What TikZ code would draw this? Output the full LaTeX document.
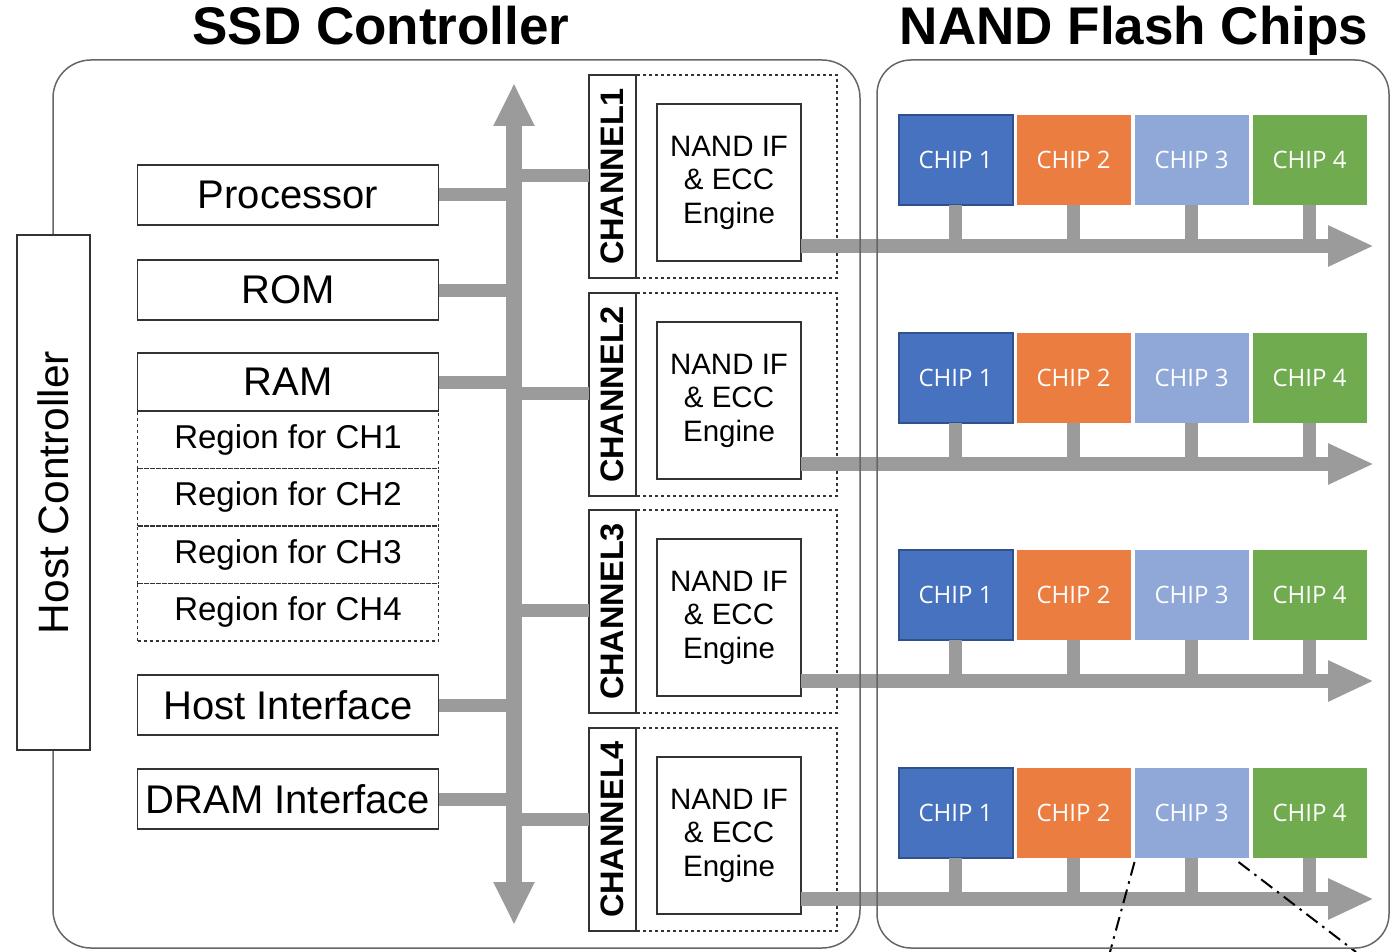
\documentclass[tikz,border=0pt]{standalone}
\usepackage{fontspec}
\setmainfont{Liberation Sans}
\newfontfamily\chipfont{Open Sans}
\usetikzlibrary{shapes,arrows.meta,positioning,calc}
\definecolor{busgray}{RGB}{155,155,155}
\definecolor{chipblue}{RGB}{70,114,192}
\definecolor{chipblueline}{RGB}{47,82,143}
\definecolor{chiporange}{RGB}{235,125,65}
\definecolor{chiplight}{RGB}{143,168,216}
\definecolor{chipgreen}{RGB}{112,171,80}

\begin{document}
\begin{tikzpicture}[x=1pt, y=-1pt,
    block/.style={rectangle, draw=black!80, line width=1.5pt, fill=white, inner sep=0pt, outer sep=0pt, align=center},
    region/.style={rectangle, draw=black!80, line width=1.5pt, dash pattern=on 3pt off 3pt, inner sep=0pt, outer sep=0pt, minimum width=301pt, minimum height=57.5pt, font=\fontsize{33}{38}\selectfont},
    group/.style={rectangle, draw=black!80, line width=1.5pt, dash pattern=on 3pt off 3pt, inner sep=0pt, outer sep=0pt},
    chip/.style={rectangle, inner sep=0pt, outer sep=0pt, minimum width=114pt, minimum height=90pt, text=white, font=\chipfont\fontsize{24}{28}\selectfont},
    frame/.style={rectangle, draw=black!60, line width=1.5pt, rounded corners=38pt, inner sep=0pt},
    title/.style={anchor=base, font=\fontsize{53}{60}\selectfont\bfseries},
    link/.style={draw=busgray, line width=13pt},
    stub/.style={draw=busgray, line width=12.5pt},
    bus/.style={draw=busgray, line width=16pt, {Triangle[length=43pt, width=38pt]}-{Triangle[length=43pt, width=38pt]}},
    rowbus/.style={draw=busgray, line width=14pt, -{Triangle[length=46pt, width=38pt]}},
    zoomline/.style={line width=2pt, dash pattern=on 14pt off 6pt on 2.5pt off 6pt}]
    \useasboundingbox (0,0) rectangle (1398,952);

    % Titles
    \node (ssdtitle) [title] at (381,45) {SSD Controller};
    \node (nandtitle) [title] at (1134,45) {NAND Flash Chips};

    % Controller blocks
    \node (proc) [block, minimum width=301pt, minimum height=60pt, font=\fontsize{40}{46}\selectfont] at (288,195) {Processor};
    \node (rom) [block, minimum width=301pt, minimum height=60pt, font=\fontsize{40}{46}\selectfont] at (288,290) {ROM};
    \node (ram) [block, minimum width=301pt, minimum height=58pt, font=\fontsize{40}{46}\selectfont] at (288,382) {RAM};
    \node (reg1) [region, below=0pt of ram] {Region for CH1};
    \node (reg2) [region, below=0pt of reg1] {Region for CH2};
    \node (reg3) [region, below=0pt of reg2] {Region for CH3};
    \node (reg4) [region, below=0pt of reg3] {Region for CH4};
    \node (hostif) [block, minimum width=301pt, minimum height=60pt, font=\fontsize{40}{46}\selectfont] at (288,705) {Host Interface};
    \node (dramif) [block, minimum width=301pt, minimum height=60pt, font=\fontsize{40}{46}\selectfont] at (288,799) {DRAM Interface};

    % System bus
    \coordinate (bustop) at (514,83);
    \coordinate (busbot) at (514,925);
    \coordinate (bus) at (514,500);
    \coordinate (tip) at (1374,0);
    \draw[bus] (bustop) -- (busbot);
    \foreach \n in {proc, rom, ram, hostif, dramif}
        \draw[link] (\n.east) -- (\n.east -| bus);

    % Channels with their chips
    \foreach \i/\ytop/\cy in {1/75/176, 2/293/393, 3/510/610, 4/728/819} {
        \node (grp\i) [group, minimum width=248pt, minimum height=203pt] at (713,\ytop+101.5) {};
        \node (lbl\i) [block, rotate=90, minimum width=203pt, minimum height=47pt, font=\fontsize{32.5}{36}\selectfont\bfseries] at (612.5,\ytop+101.5) {CHANNEL\i};
        \node (nif\i) [block, minimum width=144pt, minimum height=157pt, font=\fontsize{29.5}{33.5}\selectfont] at (729,\ytop+107.5) {NAND IF\\\& ECC\\Engine};
        \coordinate (cy\i) at (0,\cy);
        \draw[link] (bus |- cy\i) -- (lbl\i.north |- cy\i);

        \node (chip\i1) [chip, fill=chipblue, draw=chipblueline, line width=2pt] at (955.5,\ytop+85) {CHIP 1};
        \node (chip\i2) [chip, fill=chiporange, right=4pt of chip\i1] {CHIP 2};
        \node (chip\i3) [chip, fill=chiplight, right=4pt of chip\i2] {CHIP 3};
        \node (chip\i4) [chip, fill=chipgreen, right=4pt of chip\i3] {CHIP 4};

        \coordinate (r\i) at ([yshift=15pt]nif\i.south east);
        \draw[rowbus] (r\i) -- (r\i -| tip);
        \foreach \j in {1,...,4}
            \draw[stub] (chip\i\j.south) -- (chip\i\j.south |- r\i);
    }

    % Zoom lines below chip 3
    \coordinate (zoomL) at (1110,952);
    \coordinate (zoomR) at (1356,952);
    \draw[zoomline] ([yshift=-4pt]chip43.south west) -- (zoomL);
    \draw[zoomline] ([xshift=-10pt, yshift=-4pt]chip43.south east) -- (zoomR);

    % Frames
    \node (ssd) [frame, minimum width=807pt, minimum height=888pt] at (456.5,504) {};
    \node (nand) [frame, minimum width=512pt, minimum height=888pt, rounded corners=34pt] at (1133,504) {};

    % Host side
    \node (host) [block, rotate=90, minimum width=515pt, minimum height=73pt, font=\fontsize{42.5}{48}\selectfont] at (53.5,492.5) {Host Controller};
\end{tikzpicture}
\end{document}
